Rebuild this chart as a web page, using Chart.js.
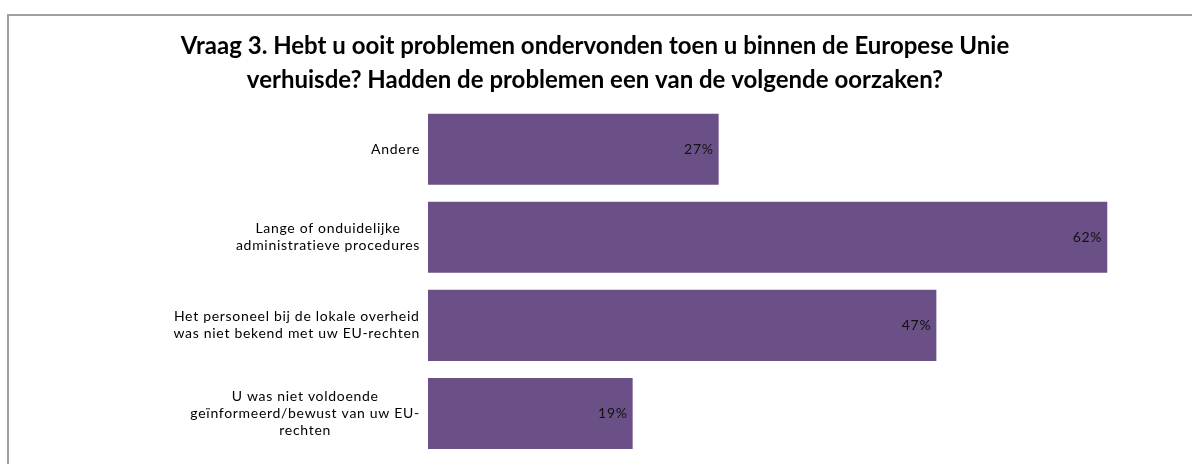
<!DOCTYPE html>
<html>
<head>
<meta charset="utf-8">
<script src="https://cdn.jsdelivr.net/npm/chart.js@4"></script>
<style>
    html, body { margin: 0; padding: 0; background: #ffffff; overflow: hidden; }
    #frame {
        position: absolute; left: 7px; top: 14px; width: 1400px; height: 700px;
        border-left: 2px solid #a0a0a0; border-top: 2px solid #a0a0a0;
    }
    #wrap { position: absolute; left: 0; top: 0; width: 1192px; height: 464px; }
</style>
</head>
<body>
<div id="frame"></div>
<div id="wrap"><canvas id="problemChart"></canvas></div>
<script>
// Vraag 3 - oorzaken van problemen bij verhuizing binnen de EU
const titleLines = [
    'Vraag 3. Hebt u ooit problemen ondervonden toen u binnen de Europese Unie',
    'verhuisde? Hadden de problemen een van de volgende oorzaken?'
];
const categories = [
    ['Andere'],
    ['Lange of onduidelijke', 'administratieve procedures'],
    ['Het personeel bij de lokale overheid', 'was niet bekend met uw EU-rechten'],
    ['U was niet voldoende', 'geïnformeerd/bewust van uw EU-', 'rechten']
];
const values = [26.7, 62.4, 46.7, 18.8];
const axisMax = 70;

const barColor = '#6a5087';
const textColor = '#000000';

// category labels: each block right-aligned, lines centred inside the block
const categoryLabels = {
    id: 'categoryLabels',
    afterDraw(chart) {
        const ctx = chart.ctx;
        const yScale = chart.scales.y;
        ctx.save();
        ctx.font = '14px Lato';
        ctx.letterSpacing = '0.7px';
        ctx.fillStyle = textColor;
        ctx.textAlign = 'center';
        ctx.textBaseline = 'middle';
        categories.forEach((lines, i) => {
            const blockWidth = Math.max(...lines.map(l => ctx.measureText(l).width));
            const cx = yScale.right - 8 - blockWidth / 2;
            const cy = yScale.getPixelForValue(i);
            lines.forEach((line, j) => {
                ctx.fillText(line, cx, cy + (j - (lines.length - 1) / 2) * 17);
            });
        });
        ctx.restore();
    }
};

// percentage labels at the inside end of each bar
const valueLabels = {
    id: 'valueLabels',
    afterDatasetsDraw(chart) {
        const ctx = chart.ctx;
        const meta = chart.getDatasetMeta(0);
        ctx.save();
        ctx.font = '14px Lato';
        ctx.letterSpacing = '0.7px';
        ctx.fillStyle = '#111111';
        ctx.textAlign = 'right';
        ctx.textBaseline = 'middle';
        meta.data.forEach((bar, i) => {
            ctx.fillText(Math.round(values[i]) + '%', bar.x - 5, bar.y);
        });
        ctx.restore();
    }
};

new Chart(document.getElementById('problemChart'), {
    type: 'bar',
    data: {
        labels: categories,
        datasets: [{
            data: values,
            backgroundColor: barColor,
            borderWidth: 0,
            categoryPercentage: 1,
            barPercentage: 0.807
        }]
    },
    options: {
        indexAxis: 'y',
        responsive: true,
        maintainAspectRatio: false,
        animation: false,
        layout: {
            padding: { top: 0, right: 2, bottom: 6.5, left: 0 }
        },
        plugins: {
            legend: { display: false },
            tooltip: { enabled: false },
            title: {
                display: true,
                text: titleLines,
                color: textColor,
                font: { family: 'Lato', size: 24, weight: 'bold', lineHeight: 1.42 },
                padding: { top: 29, bottom: 8 }
            }
        },
        scales: {
            x: {
                display: false,
                min: 0,
                max: axisMax
            },
            y: {
                grid: { display: false },
                border: { display: false },
                ticks: { display: false },
                afterFit(scale) {
                    scale.width = 428;
                }
            }
        }
    },
    plugins: [categoryLabels, valueLabels]
});
</script>
</body>
</html>
